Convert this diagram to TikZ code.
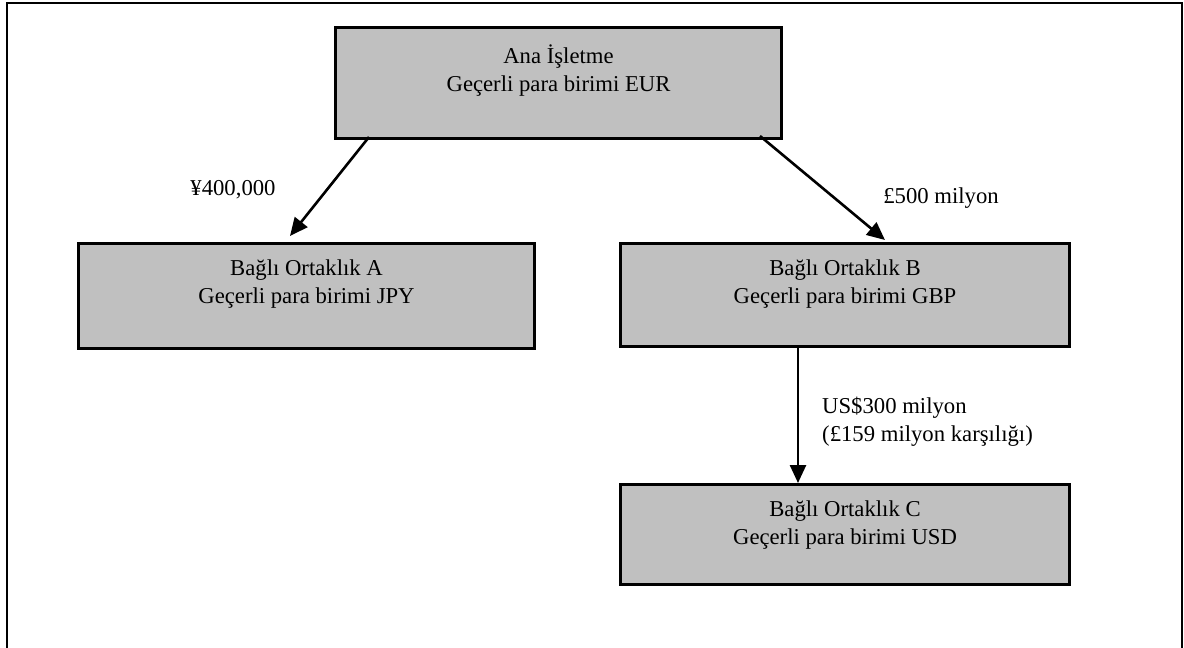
\documentclass[tikz,border=0pt]{standalone}
\usepackage{fontspec}
\setmainfont{Liberation Serif}
\usetikzlibrary{arrows.meta}
\definecolor{boxgray}{RGB}{192,192,192}
\tikzset{
  entity/.style={draw=black, line width=3pt, fill=boxgray, inner sep=0pt, anchor=north west},
  boxtext/.style={anchor=north, inner sep=0pt, align=center, font=\fontsize{22.7}{28}\selectfont},
  lbl/.style={inner sep=0pt, font=\fontsize{22.7}{28}\selectfont},
  flow/.style={line width=2.6pt, -{Triangle[length=18pt,width=16pt]}},
}
\begin{document}
\begin{tikzpicture}[x=1pt,y=-1pt]
\useasboundingbox (0,0) rectangle (1184,648);
% outer frame
\draw[line width=2.2pt] (7,650) -- (7,3) -- (1182,3) -- (1182,650);
% boxes
\node[entity, minimum width=446pt, minimum height=111pt] (top) at (334,26) {};
\node[entity, minimum width=456pt, minimum height=105pt] (a) at (77,242) {};
\node[entity, minimum width=449pt, minimum height=103pt] (b) at (619,242) {};
\node[entity, minimum width=449pt, minimum height=100pt] (c) at (619,483) {};
% box texts
\node[boxtext] (toptext) at ([yshift=-19pt]top.north) {Ana İşletme\\Geçerli para birimi EUR};
\node[boxtext] (atext) at ([yshift=-18pt]a.north) {Bağlı Ortaklık A\\Geçerli para birimi JPY};
\node[boxtext] (btext) at ([yshift=-18pt]b.north) {Bağlı Ortaklık B\\Geçerli para birimi GBP};
\node[boxtext] (ctext) at ([yshift=-18pt]c.north) {Bağlı Ortaklık C\\Geçerli para birimi USD};
% connectors
\coordinate (ta) at (369,137);
\coordinate (aa) at (290,236);
\coordinate (tb) at (760,136);
\coordinate (bb) at (885,240);
\draw[flow] (ta) -- (aa);
\draw[flow] (tb) -- (bb);
\draw[flow] (b.south -| 798,0) -- (c.north -| 798,0);
% labels
\node[lbl] (la) at (233,190) {¥400,000};
\node[lbl] (lb) at (941,198) {£500 milyon};
\node[lbl, anchor=north west, align=left] (lc) at (822,397) {US\$300 milyon\\(£159 milyon karşılığı)};
\end{tikzpicture}
\end{document}
